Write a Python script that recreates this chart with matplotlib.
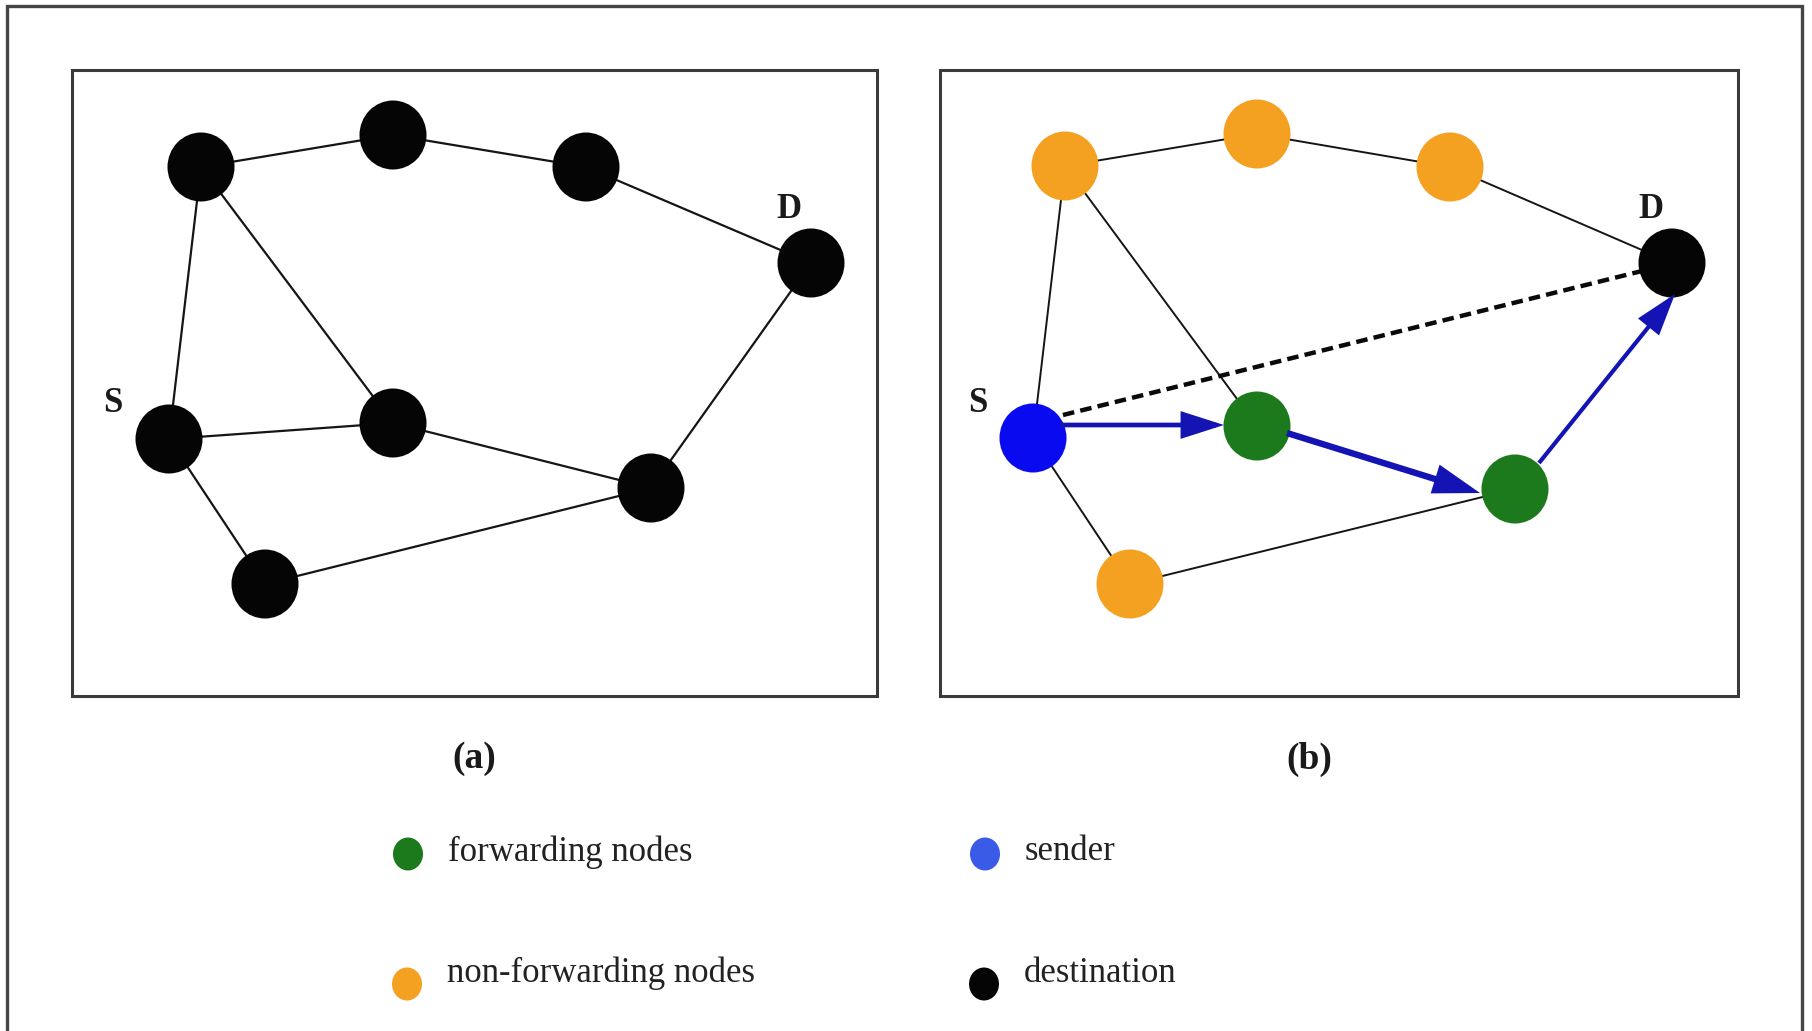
import matplotlib.pyplot as plt
from matplotlib.patches import Ellipse, Rectangle, FancyArrowPatch

# ---- data (pixel coords of the original figure) ----
W, H = 1812, 1031

# panel (a): all nodes black
ax_x = [201, 393, 586, 811, 169, 393, 651, 265]
ax_y = [167, 135, 167, 263, 439, 423, 488, 584]

# panel (b): coloured nodes
bx_x = [1065, 1257, 1450, 1672, 1033, 1257, 1515, 1130]
bx_y = [166, 134, 167, 263, 438, 426, 489, 584]
b_colors = ['#f4a020', '#f4a020', '#f4a020', '#050505',
            '#0a0af0', '#1c7a1c', '#1c7a1c', '#f4a020']

# thin links between node indices
edges_a = [(0, 1), (1, 2), (2, 3), (0, 4), (0, 5), (4, 5),
           (5, 6), (3, 6), (4, 7), (7, 6)]
edges_b = [(0, 1), (1, 2), (2, 3), (0, 4), (0, 5), (4, 7), (7, 6)]

# forwarding path in (b): start/end points of arrows, line widths
path_start = [(1060, 425), (1287, 433), (1539, 463)]
path_end = [(1224, 425), (1480, 493), (1675, 294)]
path_lw = [3.4, 4.6, 3.0]
direct_line = [(1063, 415), (1646, 270)]

legend_labels = ['forwarding nodes', 'sender', 'non-forwarding nodes', 'destination']
legend_colors = ['#1c7a1c', '#3a5ae8', '#f4a020', '#050505']
legend_x = [408, 985, 407, 984]
legend_y = [854, 854, 984, 984]
legend_text_y = [852, 852, 973, 973]

serif = ['Liberation Serif', 'DejaVu Serif']

fig = plt.figure(figsize=(W / 100, H / 100), dpi=100)
ax = fig.add_axes([0, 0, 1, 1])
ax.set_xlim(0, W)
ax.set_ylim(H, 0)
ax.axis('off')

# outer frame (bottom edge cut off in the original)
ax.plot([7, 7, 1802, 1802], [1031, 6, 6, 1031], color='#454545', lw=2.4,
        solid_joinstyle='miter')

# panel boxes
for x0, x1 in [(72, 877), (940, 1738)]:
    ax.add_patch(Rectangle((x0, 70), x1 - x0, 626, fill=False,
                           edgecolor='#3a3a3a', lw=2.2))


def draw_nodes(xs, ys, colors):
    for x, y, c in zip(xs, ys, colors):
        ax.add_patch(Ellipse((x, y), 67, 69, facecolor=c, edgecolor='none', zorder=4))


for i, j in edges_a:
    ax.plot([ax_x[i], ax_x[j]], [ax_y[i], ax_y[j]], color='#151515', lw=1.6, zorder=2)
draw_nodes(ax_x, ax_y, ['#050505'] * len(ax_x))

for i, j in edges_b:
    ax.plot([bx_x[i], bx_x[j]], [bx_y[i], bx_y[j]], color='#151515', lw=1.4, zorder=2)

# dashed direct line S -> D
ax.plot([direct_line[0][0], direct_line[1][0]], [direct_line[0][1], direct_line[1][1]],
        color='#0a0a0a', lw=3.2, ls=(0, (2.6, 1.4)), zorder=3)

for (x0, y0), (x1, y1), lw in zip(path_start, path_end, path_lw):
    ax.add_patch(FancyArrowPatch((x0, y0), (x1, y1),
                                 arrowstyle='-|>,head_length=1.0,head_width=0.32',
                                 mutation_scale=24, color='#1414b4', lw=lw,
                                 joinstyle='miter', capstyle='butt',
                                 shrinkA=0, shrinkB=0, zorder=5))
draw_nodes(bx_x, bx_y, b_colors)

# S / D labels
for x, y, t in [(113, 403, 'S'), (789, 209, 'D'), (978, 403, 'S'), (1651, 209, 'D')]:
    ax.text(x, y, t, family=serif, fontsize=25, fontweight='bold',
            ha='center', va='center', color='#1a1a1a')

# panel captions
ax.text(474, 759, '(a)', family=serif, fontsize=27, fontweight='bold',
        ha='center', va='center', color='#1a1a1a')
ax.text(1309, 759, '(b)', family=serif, fontsize=27, fontweight='bold',
        ha='center', va='center', color='#1a1a1a')

# legend
for x, y, ty, c, lab in zip(legend_x, legend_y, legend_text_y, legend_colors, legend_labels):
    ax.add_patch(Ellipse((x, y), 30, 33, facecolor=c, edgecolor='none'))
    ax.text(x + 40, ty, lab, family=serif, fontsize=25,
            ha='left', va='center', color='#222222')

fig.savefig('out.png', dpi=100)
